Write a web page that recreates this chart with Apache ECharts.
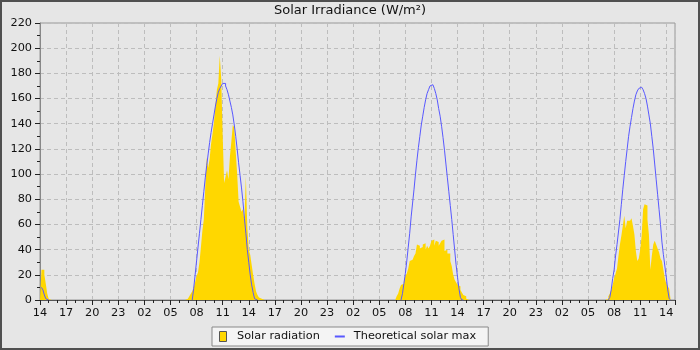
<!DOCTYPE html>
<html>
<head>
<meta charset="utf-8">
<script src="https://cdn.jsdelivr.net/npm/echarts@6/dist/echarts.min.js"></script>
<style>
html,body{margin:0;padding:0;background:#e6e6e6;}
#chart{width:700px;height:350px;}
</style>
</head>
<body>
<div id="chart"></div>
<script>
// ---- data (10-minute samples, time measured in minutes from the start of the chart) ----
const titleText = 'Solar Irradiance (W/m²)';
const seriesNames = ['Solar radiation', 'Theoretical solar max'];
const tickLabels = ['14','17','20','23','02','05','08','11','14','17','20','23','02','05','08','11','14','17','20','23','02','05','08','11','14'];
const sampleMinutes = 10;
const totalSamples = 436;
const axisSpanHours = 73;

// Solar radiation (W/m²), one block per day, start given in minutes from chart start
const radiation0StartMin = 0;
const radiation0 = [0, 24, 24, 20, 13, 5, 1, 0];
const radiation1StartMin = 1000;
const radiation1 = [0, 1, 2, 3, 5, 7, 10, 14, 19, 22, 30, 42, 55, 64, 90, 113, 105, 112, 124, 132,
  141, 155, 167, 172, 194, 176, 131, 93, 98, 103, 96, 114, 126, 139, 137, 118, 100, 78, 74, 70,
  72, 63, 98, 58, 40, 36, 28, 20, 13, 7, 4, 2, 1, 0];
const radiation2StartMin = 2460;
const radiation2 = [3, 5, 9, 12, 13, 15, 19, 21, 25, 31, 32, 33, 35, 37, 44, 43, 41, 42, 44, 45,
  40, 43, 41, 43, 47, 48, 43, 47, 46, 43, 45, 47, 48, 39, 40, 37, 37, 31, 27, 20,
  16, 14, 12, 11, 8, 6, 4, 3, 1, 0];
const radiation3StartMin = 3910;
const radiation3 = [1, 3, 5, 8, 12, 17, 21, 25, 35, 44, 51, 59, 67, 57, 63, 63, 64, 65, 59, 52,
  39, 31, 33, 40, 51, 72, 76, 75, 64, 52, 24, 35, 44, 47, 44, 41, 38, 33, 31, 24,
  17, 13, 11, 9, 0];

// Theoretical solar max (W/m²)
const theoretical0StartMin = 10;
const theoretical0 = [10, 8, 4, 1, 0];
const theoretical1StartMin = 1050;
const theoretical1 = [0, 9, 20, 31, 42, 53, 64, 75, 86, 97, 107, 116, 125, 133, 140, 147, 154, 160, 165, 168,
  170, 172, 172, 170, 167, 163, 158, 153, 147, 139, 130, 120, 109, 99, 89, 78, 65, 53, 40, 30,
  20, 12, 6, 1, 0];
const theoretical2StartMin = 2490;
const theoretical2 = [0, 5, 13, 21, 31, 42, 53, 66, 77, 88, 100, 111, 121, 130, 139, 146, 153, 159, 164, 167,
  170, 171, 170, 168, 164, 159, 152, 146, 138, 129, 119, 108, 97, 86, 75, 64, 52, 40, 28, 18,
  9, 2, 0];
const theoretical3StartMin = 3920;
const theoretical3 = [0, 2, 8, 17, 24, 35, 44, 54, 64, 76, 88, 99, 110, 120, 130, 138, 145, 152, 158, 163,
  166, 168, 169, 169, 167, 164, 160, 154, 147, 140, 130, 120, 108, 96, 84, 72, 60, 46, 36, 27,
  18, 8, 1, 0];

// ---- build series arrays ----
const radiationFull = new Array(totalSamples).fill(0);
const theoreticalFull = new Array(totalSamples).fill(null);
function place(target, startMin, values) {
  const s = Math.round(startMin / sampleMinutes);
  values.forEach((v, k) => { if (s + k < target.length) target[s + k] = v; });
}
place(radiationFull, radiation0StartMin, radiation0);
place(radiationFull, radiation1StartMin, radiation1);
place(radiationFull, radiation2StartMin, radiation2);
place(radiationFull, radiation3StartMin, radiation3);
place(theoreticalFull, theoretical0StartMin, theoretical0);
place(theoreticalFull, theoretical1StartMin, theoretical1);
place(theoreticalFull, theoretical2StartMin, theoretical2);
place(theoreticalFull, theoretical3StartMin, theoretical3);

const hoursOf = i => i * sampleMinutes / 60;
const radiationData = radiationFull.map((v, i) => [hoursOf(i), v]);
const theoreticalData = theoreticalFull.map((v, i) => [hoursOf(i), v]);

const FONT = 'DejaVu Sans';
const BLUE = '#5858ff';
const chart = echarts.init(document.getElementById('chart'), null, {renderer: 'canvas'});
chart.setOption({
  animation: false,
  backgroundColor: '#e6e6e6',
  title: {
    text: titleText,
    left: 'center',
    top: 4,
    padding: 0,
    textStyle: {fontSize: 13, fontWeight: 'normal', fontFamily: FONT, color: '#111'}
  },
  graphic: [{
    type: 'rect', silent: true, z: 100,
    shape: {x: 1, y: 1, width: 698, height: 348},
    style: {fill: null, stroke: '#505050', lineWidth: 2}
  }],
  grid: {
    left: 40, right: 25, top: 23, bottom: 50,
    show: true, borderColor: '#999', borderWidth: 1, backgroundColor: 'transparent'
  },
  legend: {
    left: 212, top: 327,
    itemWidth: 10, itemHeight: 10, itemGap: 15,
    padding: [4, 12, 4, 7],
    backgroundColor: '#f4f4f4', borderColor: '#888', borderWidth: 1, borderRadius: 0,
    selectedMode: false,
    textStyle: {fontSize: 11.3, fontFamily: FONT, color: '#111', padding: [0, 0, 0, 4]},
    data: [
      {name: seriesNames[0], icon: 'path://M0,0H7V10H0Z',
       itemStyle: {color: '#FFD700', borderColor: '#555', borderWidth: 1}},
      {name: seriesNames[1], icon: 'path://M0,0H10V2H0Z',
       itemStyle: {color: BLUE, borderWidth: 0}}
    ]
  },
  xAxis: {
    type: 'value', min: 0, max: axisSpanHours, interval: 3,
    axisLine: {show: true, onZero: false, lineStyle: {color: '#555', width: 1}},
    axisTick: {show: true, length: 5, lineStyle: {color: '#222'}},
    minorTick: {show: true, splitNumber: 3, length: 3, lineStyle: {color: '#222'}},
    axisLabel: {
      fontSize: 11.3, fontFamily: FONT, color: '#111', margin: 8,
      showMaxLabel: true, showMinLabel: true,
      formatter: function (v) {
        const k = v / 3;
        if (Math.abs(k - Math.round(k)) > 1e-6) return '';
        return tickLabels[Math.round(k)] || '';
      }
    },
    splitLine: {show: true, lineStyle: {color: '#bdbdbd', type: [4, 3], width: 1}},
    minorSplitLine: {show: false}
  },
  yAxis: {
    type: 'value', min: 0, max: 220, interval: 20,
    axisLine: {show: true, lineStyle: {color: '#888', width: 1}},
    axisTick: {show: true, length: 5, lineStyle: {color: '#222'}},
    minorTick: {show: true, splitNumber: 2, length: 3, lineStyle: {color: '#222'}},
    axisLabel: {fontSize: 11.3, fontFamily: FONT, color: '#111', margin: 8},
    splitLine: {show: true, lineStyle: {color: '#bdbdbd', type: [4, 3], width: 1}}
  },
  series: [
    {
      name: seriesNames[0], type: 'line', step: 'end', data: radiationData,
      symbol: 'none', showSymbol: false, silent: true,
      lineStyle: {width: 0, opacity: 0},
      areaStyle: {color: '#FFD700', opacity: 1},
      itemStyle: {color: '#FFD700'},
      z: 2
    },
    {
      name: seriesNames[1], type: 'line', step: 'end', data: theoreticalData,
      symbol: 'none', showSymbol: false, silent: true, connectNulls: false,
      lineStyle: {color: BLUE, width: 1},
      itemStyle: {color: BLUE},
      z: 3
    }
  ]
});
</script>
</body>
</html>
